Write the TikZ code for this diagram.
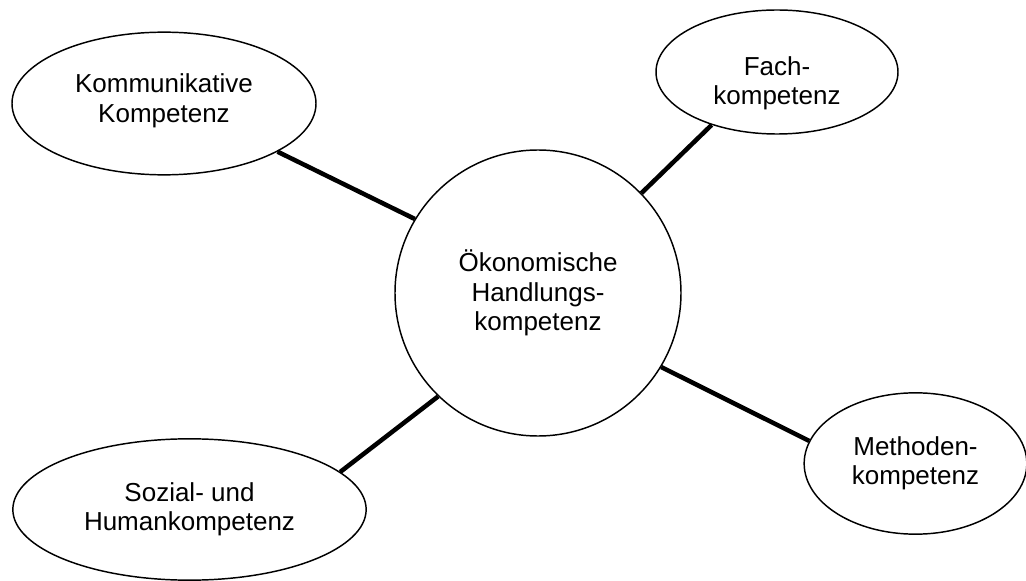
\documentclass[tikz,border=0pt]{standalone}
\usepackage{fontspec}
\setmainfont{Liberation Sans}
\usetikzlibrary{shapes.geometric}
\begin{document}
\begin{tikzpicture}[x=0.75pt,y=-0.75pt,
  bubble/.style={draw, ellipse, line width=1.1pt, inner sep=0pt, align=center,
    font=\fontsize{19.5}{22}\selectfont},
  link/.style={line width=3.4pt}]
\useasboundingbox (0,0) rectangle (1026,581);
\node[bubble, circle, minimum size=214.5pt] (hub) at (538,293) {Ökonomische\\Handlungs-\\kompetenz};
\node[bubble, minimum width=228pt, minimum height=107pt] (komm) at (164,103.5) {Kommunikative\\Kompetenz\\[-14pt]};
\node[bubble, minimum width=181.5pt, minimum height=93pt] (fach) at (777,72) {\mbox{}\\[9pt]Fach-\\kompetenz};
\node[bubble, minimum width=167pt, minimum height=106pt] (meth) at (915.5,463.5) {Methoden-\\kompetenz};
\node[bubble, minimum width=265pt, minimum height=106pt] (soz) at (189.5,509.5) {Sozial- und\\Humankompetenz};

\draw[link] (komm.-23) -- (hub.149);
\draw[link] (fach.219) -- (hub.44);
\draw[link] (meth.168) -- (hub.-31);
\draw[link] (soz.14) -- (hub.226);
\end{tikzpicture}
\end{document}
